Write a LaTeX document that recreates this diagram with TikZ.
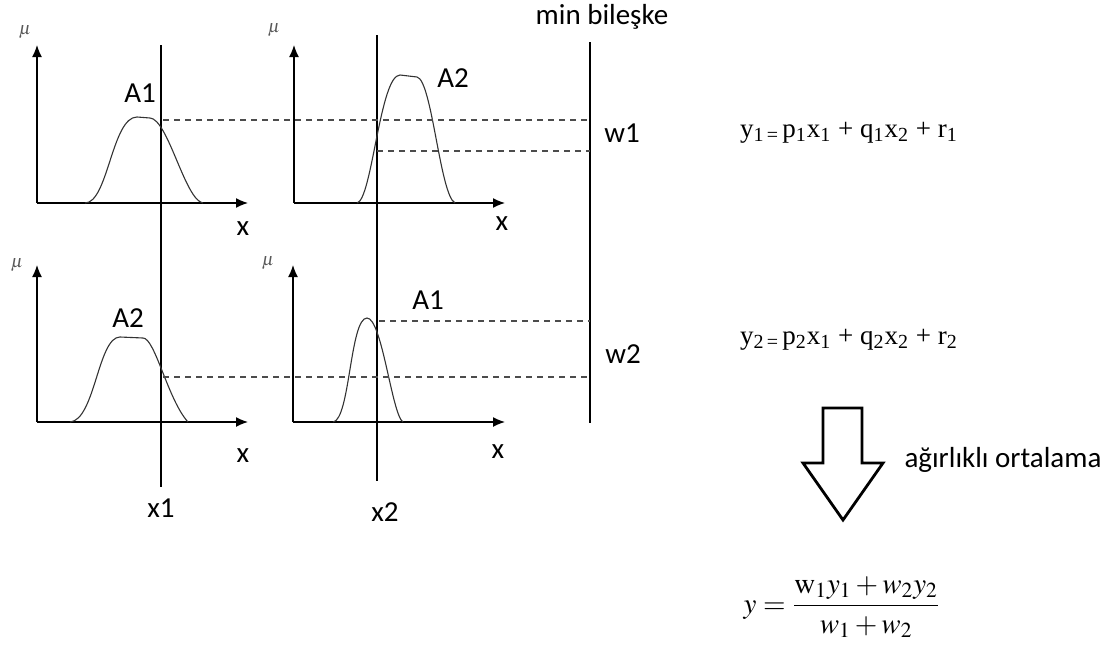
\documentclass[tikz,border=0pt]{standalone}
\usepackage{amsmath}
\usepackage{mathptmx}
\usepackage{fontspec}
\setmainfont{Carlito}
\newfontfamily\eqfont{Liberation Serif}
\usepackage{tikz}
\usetikzlibrary{arrows.meta, positioning, calc}

\begin{document}
\begin{tikzpicture}[x=0.5pt, y=-0.5pt,
  axis/.style={line width=0.7pt, -{Latex[length=6pt,width=5pt]}},
  guide/.style={line width=0.55pt},
  curve/.style={line width=0.55pt, black!80},
  level/.style={line width=0.55pt, gray!60!black, dash pattern=on 3pt off 2.5pt},
  lbl/.style={font=\fontsize{14.5}{16}\selectfont},
  mulbl/.style={font=\small, text=gray!70!black},
  eq/.style={font=\eqfont\fontsize{13.5}{16}\selectfont, anchor=west}]
  % Frame
  \useasboundingbox (0,0) rectangle (1113,648);

  % Panel origins
  \coordinate (O1) at (37,203);
  \coordinate (O2) at (294,203);
  \coordinate (O3) at (37,422);
  \coordinate (O4) at (293,422);

  % Axes
  \draw[axis] (O1) -- (37,45);
  \draw[axis] (O1) -- (248,203);
  \draw[axis] (O2) -- (294,45);
  \draw[axis] (O2) -- (505,203);
  \draw[axis] (O3) -- (37,265);
  \draw[axis] (O3) -- (248,422);
  \draw[axis] (O4) -- (293,265);
  \draw[axis] (O4) -- (505,422);

  % Axis labels
  \node[mulbl] at (25,32) {$\mu$};
  \node[mulbl] at (274,30) {$\mu$};
  \node[mulbl] at (17,265) {$\mu$};
  \node[mulbl] at (268,263) {$\mu$};
  \node[lbl] at (243,229) {x};
  \node[lbl] at (502,224) {x};
  \node[lbl] at (243,456) {x};
  \node[lbl] at (498,452) {x};

  % Input lines
  \draw[guide] (161,45) -- (161,487);
  \draw[guide] (377,35) -- (377,481);
  \node[lbl] (x1) at (161,508) {x1};
  \node[lbl] (x2) at (385,512) {x2};

  % Membership curves
  \draw[curve] (85,203) .. controls (108,203) and (112,117) .. (137,117)
    -- (150,118) .. controls (168,119) and (185,200) .. (203,203);
  \draw[curve] (357,203) .. controls (372,200) and (380,75) .. (400,75)
    -- (417,77) .. controls (432,80) and (440,195) .. (455,203);
  \draw[curve] (70,422) .. controls (95,420) and (98,337) .. (120,337)
    -- (143,338) .. controls (155,338) and (168,400) .. (188,422);
  \draw[curve] (333,422) .. controls (350,420) and (350,318) .. (367,318)
    .. controls (382,318) and (392,415) .. (403,422);
  \node[lbl] (a1t) at (140,93) {A1};
  \node[lbl] (a2t) at (453,78) {A2};
  \node[lbl] (a2b) at (128,318) {A2};
  \node[lbl] (a1b) at (428,300) {A1};

  % Min line and firing levels
  \draw[guide] (590,42) -- (590,423);
  \node[lbl] (minb) at (602,17) {min bile\c{s}ke};
  \draw[level] (163,120) -- (590,120);
  \draw[level] (377,151) -- (590,151);
  \draw[level] (379,321) -- (590,321);
  \draw[level] (163,377) -- (590,377);
  \node[lbl] (w1) at (622,133) {w1};
  \node[lbl] (w2) at (623,354) {w2};

  % Rule outputs
  \node[eq] (y1) at (733,133) {y\textsubscript{1\,=\,}p\textsubscript{1}x\textsubscript{1} + q\textsubscript{1}x\textsubscript{2} + r\textsubscript{1}};
  \node[eq] (y2) at (733,340) {y\textsubscript{2\,=\,}p\textsubscript{2}x\textsubscript{1} + q\textsubscript{2}x\textsubscript{2} + r\textsubscript{2}};

  % Block arrow
  \draw[line width=1.4pt, line join=miter] (823,408) -- (862,408) -- (862,463) -- (883,463)
    -- (843,520) -- (803,463) -- (823,463) -- cycle;
  \node[lbl] (avg) at (1003,460) {a\u{g}\i rl\i kl\i{} ortalama};

  % Weighted average
  \node[font=\fontsize{14.5}{17}\selectfont] (yout) at (842,607)
    {$y = \dfrac{\mathrm{w}_1 y_1 + w_2 y_2}{w_1 + w_2}$};
\end{tikzpicture}
\end{document}
